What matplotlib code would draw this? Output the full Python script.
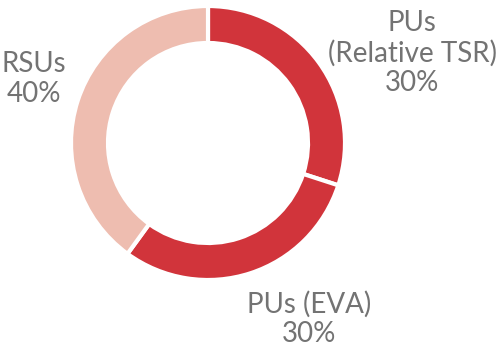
import matplotlib
matplotlib.use("Agg")
import matplotlib.pyplot as plt

categories = ["PUs\n(Relative TSR)", "PUs (EVA)", "RSUs"]
values = [30, 30, 40]
colors = ["#D1343B", "#D1343B", "#EEBDB0"]

W, H = 499, 352
fig = plt.figure(figsize=(W / 100, H / 100), dpi=100)
fig.patch.set_facecolor("white")

cx, cy, r = 208, 143, 137
ax = fig.add_axes([(cx - r) / W, (H - cy - r) / H, 2 * r / W, 2 * r / H])
ax.pie(values, colors=colors, startangle=90, counterclock=False,
       radius=1.0, wedgeprops=dict(width=0.27, edgecolor="white", linewidth=3))
ax.set_xlim(-1, 1)
ax.set_ylim(-1, 1)
ax.set_aspect("equal")
ax.axis("off")

label_pos = [(412, 53), (309, 319), (34, 79)]
for cat, val, (px, py) in zip(categories, values, label_pos):
    fig.text(px / W, 1 - py / H, f"{cat}\n{val}%", ha="center", va="center",
             fontsize=20, color="#737373", family="Lato", linespacing=1.17)

fig.savefig("out.png", dpi=100, facecolor="white")
